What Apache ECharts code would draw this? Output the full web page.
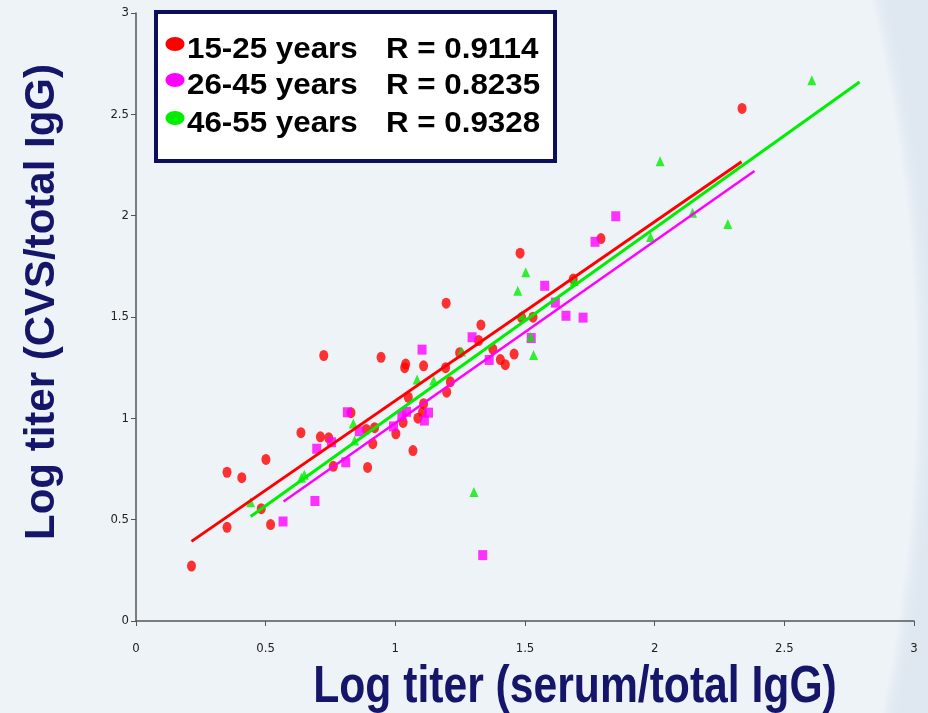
<!DOCTYPE html>
<html>
<head>
<meta charset="utf-8">
<script src="https://cdn.jsdelivr.net/npm/echarts@6/dist/echarts.min.js"></script>
<style>
  html, body { margin: 0; padding: 0; }
  #chart { width: 928px; height: 713px; }
</style>
</head>
<body>
<div id="chart"></div>
<script>
// age groups, legend text and colours
const groups = ['15-25 years', '26-45 years', '46-55 years'];
const rValues = ['R = 0.9114', 'R = 0.8235', 'R = 0.9328'];
const colors = ['#ff0000', '#ff00ff', '#00ee00'];

// 15-25 years
const youngX = [0.214, 0.351, 0.351, 0.408, 0.483, 0.501, 0.519, 0.636, 0.711, 0.724, 0.743, 0.761, 0.829, 0.893, 0.888, 0.913, 0.920, 0.945, 1.002, 1.030, 1.036, 1.040, 1.050, 1.068, 1.087, 1.105, 1.109, 1.109, 1.194, 1.196, 1.198, 1.212, 1.248, 1.321, 1.330, 1.376, 1.405, 1.424, 1.458, 1.481, 1.487, 1.531, 1.686, 1.793, 2.337];
const youngY = [0.271, 0.734, 0.462, 0.707, 0.554, 0.797, 0.476, 0.929, 0.909, 1.310, 0.904, 0.763, 1.028, 0.758, 0.945, 0.875, 0.954, 1.301, 0.924, 0.980, 1.250, 1.268, 1.104, 0.841, 1.001, 1.030, 1.259, 1.072, 1.250, 1.568, 1.129, 1.180, 1.324, 1.384, 1.461, 1.342, 1.290, 1.265, 1.317, 1.815, 1.497, 1.499, 1.687, 1.887, 2.529];

// 26-45 years
const middleX = [0.567, 0.690, 0.697, 0.754, 0.809, 0.815, 0.861, 0.993, 1.025, 1.043, 1.103, 1.112, 1.128, 1.296, 1.337, 1.362, 1.524, 1.576, 1.617, 1.658, 1.724, 1.770, 1.850];
const middleY = [0.491, 0.592, 0.850, 0.882, 0.783, 1.030, 0.936, 0.960, 1.014, 1.032, 1.339, 0.989, 1.028, 1.400, 0.325, 1.288, 1.396, 1.654, 1.571, 1.506, 1.497, 1.871, 1.997];

// 46-55 years
const olderX = [0.442, 0.638, 0.649, 0.838, 0.843, 1.084, 1.148, 1.255, 1.303, 1.472, 1.503, 1.488, 1.522, 1.533, 1.690, 1.984, 2.021, 2.146, 2.282, 2.606];
const olderY = [0.586, 0.707, 0.722, 0.975, 0.891, 1.191, 1.187, 1.330, 0.637, 1.629, 1.721, 1.510, 1.402, 1.312, 1.678, 1.895, 2.268, 2.015, 1.959, 2.668];

// linear trend lines: slope, intercept, x range
const fitSlope = [0.883, 0.898, 0.913];
const fitIntercept = [0.204, 0.079, 0.112];
const fitStart = [0.214, 0.569, 0.442];
const fitEnd = [2.335, 2.385, 2.790];

const xTitle = 'Log titer (serum/total IgG)';
const yTitle = 'Log titer (CVS/total IgG)';

const groupX = [youngX, middleX, olderX];
const groupY = [youngY, middleY, olderY];
const symbols = ['circle', 'rect', 'triangle'];
const symbolSizes = [[9, 11], [9, 10], [9, 10]];

const navy = '#15156a';
const tickFont = '"DejaVu Sans Condensed", "Liberation Sans Narrow", "Liberation Sans", Arial, sans-serif';
const chart = echarts.init(document.getElementById('chart'));

const series = [];
groups.forEach((g, i) => {
  series.push({
    name: g,
    type: 'scatter',
    symbol: symbols[i],
    symbolSize: symbolSizes[i],
    itemStyle: { color: colors[i] },
    z: 2,
    data: groupX[i].map((x, k) => [x, groupY[i][k]])
  });
});
groups.forEach((g, i) => {
  const a = fitIntercept[i], b = fitSlope[i];
  series.push({
    name: g + ' fit',
    type: 'line',
    showSymbol: false,
    silent: true,
    z: 3,
    lineStyle: { color: colors[i], width: i === 1 ? 2.5 : 3 },
    data: [[fitStart[i], a + b * fitStart[i]], [fitEnd[i], a + b * fitEnd[i]]]
  });
});

// legend box drawn by hand
const legendItems = [];
const rowY = [50, 86, 124];
groups.forEach((g, i) => {
  legendItems.push({
    type: 'ellipse',
    shape: { cx: 175, cy: rowY[i] - 6, rx: 9.5, ry: 7 },
    style: { fill: colors[i] },
    z: 101
  });
  legendItems.push({
    type: 'text',
    x: 187, y: rowY[i],
    scaleX: 1.08,
    style: {
      text: g, fill: '#000',
      font: 'bold 29px "Liberation Sans", Arial, sans-serif',
      textVerticalAlign: 'middle'
    },
    z: 101
  });
  legendItems.push({
    type: 'text',
    x: 386, y: rowY[i],
    scaleX: 1.08,
    style: {
      text: rValues[i], fill: '#000',
      font: 'bold 29px "Liberation Sans", Arial, sans-serif',
      textVerticalAlign: 'middle'
    },
    z: 101
  });
});

const option = {
  backgroundColor: '#eef3f8',
  animation: false,
  grid: { left: 136, right: 14, top: 13, bottom: 92 },
  xAxis: {
    type: 'value', min: 0, max: 3, interval: 0.5,
    axisLine: { show: true, lineStyle: { color: '#555', width: 1.5 } },
    axisTick: { show: true, length: 5, lineStyle: { color: '#555' } },
    splitLine: { show: false },
    axisLabel: { margin: 21, color: '#222', fontSize: 13, fontFamily: tickFont }
  },
  yAxis: {
    type: 'value', min: 0, max: 3, interval: 0.5,
    axisLine: { show: true, lineStyle: { color: '#555', width: 1.5 } },
    axisTick: { show: true, length: 5, lineStyle: { color: '#555' } },
    splitLine: { show: false },
    axisLabel: { margin: 7, color: '#222', fontSize: 13, fontFamily: tickFont }
  },
  graphic: [
    // faint curved band at the right edge of the slide background
    {
      type: 'group', z: -10, silent: true,
      children: [
        { type: 'rect', shape: { x: 0, y: 0, width: 928, height: 713 }, style: { fill: '#dfe8f1' } },
        {
          type: 'circle', shape: { cx: -712, cy: 380, r: 1627 },
          style: { fill: '#eef3f8', shadowBlur: 18, shadowColor: '#ffffff' }
        }
      ]
    },
    {
      type: 'text', x: 42, y: 302, rotation: Math.PI / 2,
      style: {
        text: yTitle, fill: navy,
        font: 'bold 42px "Liberation Sans", Arial, sans-serif',
        textAlign: 'center', textVerticalAlign: 'middle'
      },
      z: 100
    },
    {
      type: 'text', x: 575, y: 688, scaleX: 0.82,
      style: {
        text: xTitle, fill: navy,
        font: 'bold 52px "Liberation Sans", Arial, sans-serif',
        textAlign: 'center', textVerticalAlign: 'middle'
      },
      z: 100
    },
    {
      type: 'rect', z: 100,
      shape: { x: 156, y: 12, width: 399, height: 149 },
      style: { fill: '#ffffff', stroke: '#0d0d5e', lineWidth: 4 }
    }
  ].concat(legendItems),
  series: series
};

chart.setOption(option);
</script>
</body>
</html>
